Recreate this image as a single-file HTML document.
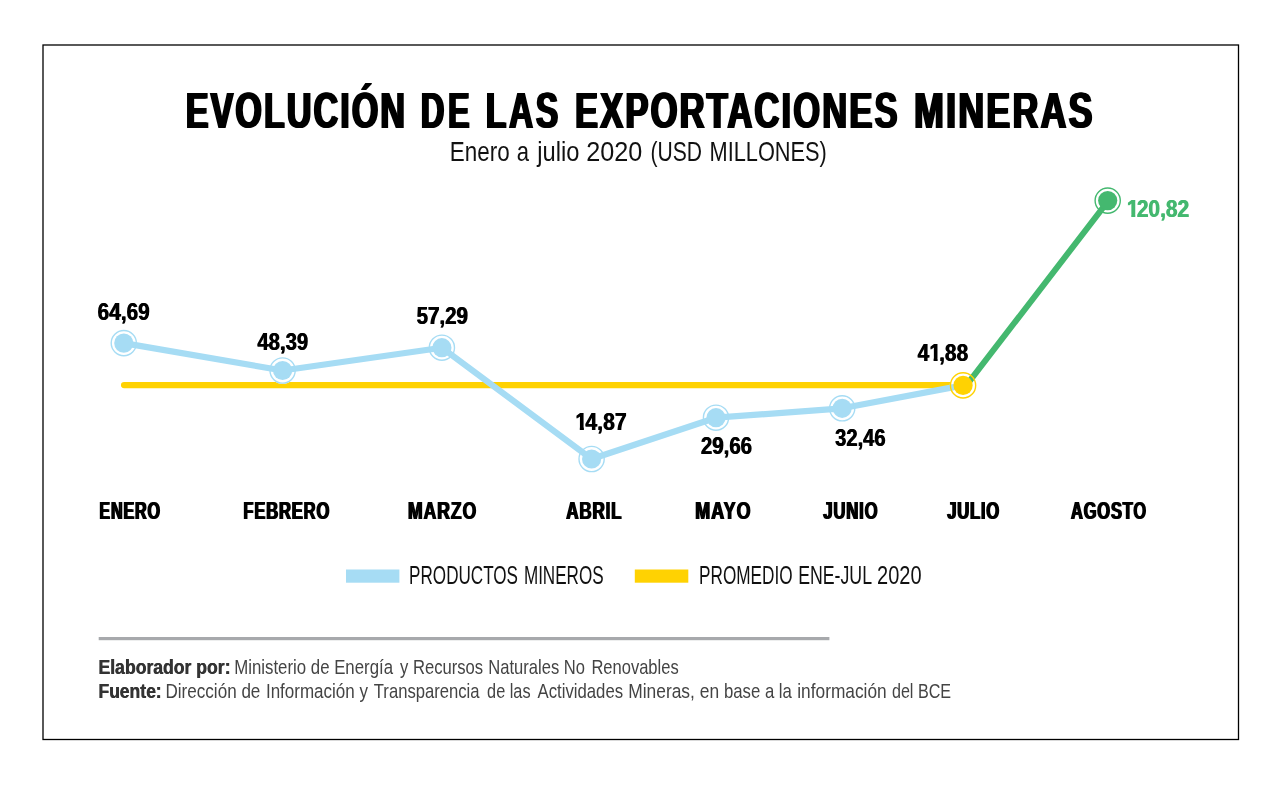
<!DOCTYPE html>
<html lang="es">
<head>
<meta charset="utf-8">
<title>Evolución de las exportaciones mineras</title>
<style>
html,body{margin:0;padding:0;background:#fff;}
body{width:1280px;height:787px;overflow:hidden;position:relative;}
svg{position:absolute;left:0;top:0;display:block;will-change:transform;}
svg text{font-family:"Liberation Sans",sans-serif;white-space:pre;}
</style>
</head>
<body>
<svg width="1280" height="787" viewBox="0 0 1280 787">
<rect x="0" y="0" width="1280" height="787" fill="#fff"/>
<!-- frame -->
<rect x="43" y="45" width="1195.5" height="694.5" fill="none" stroke="#000" stroke-width="1.3"/>
<!-- chart -->
<line x1="124.10" y1="385.10" x2="963.07" y2="385.10" stroke="#ffd202" stroke-width="6.30" stroke-linecap="round"/>
<circle cx="123.80" cy="343.10" r="13.30" fill="#fff"/>
<circle cx="282.60" cy="370.50" r="13.30" fill="#fff"/>
<circle cx="441.90" cy="347.70" r="13.30" fill="#fff"/>
<circle cx="591.60" cy="459.00" r="13.30" fill="#fff"/>
<circle cx="716.00" cy="417.70" r="13.30" fill="#fff"/>
<circle cx="842.20" cy="408.30" r="13.30" fill="#fff"/>
<circle cx="963.07" cy="385.40" r="13.30" fill="#fff"/>
<circle cx="1107.70" cy="200.60" r="13.30" fill="#fff"/>
<polyline points="123.80,343.10 282.60,370.50 441.90,347.70 591.60,459.00 716.00,417.70 842.20,408.30 963.07,385.40" fill="none" stroke="#a6dcf4" stroke-width="6.20" stroke-linejoin="round" stroke-linecap="round"/>
<line x1="966.30" y1="385.40" x2="1108.40" y2="200.70" stroke="#44b86f" stroke-width="6.00" stroke-linecap="round"/>
<circle cx="123.80" cy="343.10" r="12.60" fill="none" stroke="#a6dcf4" stroke-width="1.40"/>
<circle cx="123.80" cy="343.10" r="9.60" fill="#a6dcf4"/>
<circle cx="282.60" cy="370.50" r="12.60" fill="none" stroke="#a6dcf4" stroke-width="1.40"/>
<circle cx="282.60" cy="370.50" r="9.60" fill="#a6dcf4"/>
<circle cx="441.90" cy="347.70" r="12.60" fill="none" stroke="#a6dcf4" stroke-width="1.40"/>
<circle cx="441.90" cy="347.70" r="9.60" fill="#a6dcf4"/>
<circle cx="591.60" cy="459.00" r="12.60" fill="none" stroke="#a6dcf4" stroke-width="1.40"/>
<circle cx="591.60" cy="459.00" r="9.60" fill="#a6dcf4"/>
<circle cx="716.00" cy="417.70" r="12.60" fill="none" stroke="#a6dcf4" stroke-width="1.40"/>
<circle cx="716.00" cy="417.70" r="9.60" fill="#a6dcf4"/>
<circle cx="842.20" cy="408.30" r="12.60" fill="none" stroke="#a6dcf4" stroke-width="1.40"/>
<circle cx="842.20" cy="408.30" r="9.60" fill="#a6dcf4"/>
<circle cx="963.07" cy="385.40" r="12.60" fill="none" stroke="#ffd202" stroke-width="1.40"/>
<circle cx="963.07" cy="385.40" r="9.60" fill="#ffd202"/>
<circle cx="1107.70" cy="200.60" r="12.60" fill="none" stroke="#44b86f" stroke-width="1.40"/>
<circle cx="1107.70" cy="200.60" r="9.60" fill="#44b86f"/>
<!-- legend swatches -->
<rect x="346" y="569.5" width="53.4" height="13.2" fill="#a6dcf4"/>
<rect x="634.8" y="569.5" width="53.5" height="13.2" fill="#ffd202"/>
<!-- footer rule -->
<rect x="98.7" y="637" width="730.7" height="3.2" fill="#a7a9ac"/>
<!-- text -->
<text transform="translate(184.71 128.00) scale(0.6712 1)" font-size="50.62" font-weight="700" fill="#000" letter-spacing="3.20">EVOLUCIÓN</text>
<text transform="translate(185.81 128.00) scale(0.6712 1)" font-size="50.62" font-weight="700" fill="#000" letter-spacing="3.20">EVOLUCIÓN</text>
<text transform="translate(186.91 128.00) scale(0.6712 1)" font-size="50.62" font-weight="700" fill="#000" letter-spacing="3.20">EVOLUCIÓN</text>
<text transform="translate(419.81 128.00) scale(0.6420 1)" font-size="50.62" font-weight="700" fill="#000" letter-spacing="5.65">DE</text>
<text transform="translate(420.91 128.00) scale(0.6420 1)" font-size="50.62" font-weight="700" fill="#000" letter-spacing="5.65">DE</text>
<text transform="translate(422.01 128.00) scale(0.6420 1)" font-size="50.62" font-weight="700" fill="#000" letter-spacing="5.65">DE</text>
<text transform="translate(484.74 128.00) scale(0.6607 1)" font-size="50.62" font-weight="700" fill="#000" letter-spacing="4.16">LAS</text>
<text transform="translate(485.84 128.00) scale(0.6607 1)" font-size="50.62" font-weight="700" fill="#000" letter-spacing="4.16">LAS</text>
<text transform="translate(486.94 128.00) scale(0.6607 1)" font-size="50.62" font-weight="700" fill="#000" letter-spacing="4.16">LAS</text>
<text transform="translate(573.92 128.00) scale(0.6832 1)" font-size="50.62" font-weight="700" fill="#000" letter-spacing="3.11">EXPORTACIONES</text>
<text transform="translate(575.02 128.00) scale(0.6832 1)" font-size="50.62" font-weight="700" fill="#000" letter-spacing="3.11">EXPORTACIONES</text>
<text transform="translate(576.12 128.00) scale(0.6832 1)" font-size="50.62" font-weight="700" fill="#000" letter-spacing="3.11">EXPORTACIONES</text>
<text transform="translate(913.09 128.00) scale(0.7040 1)" font-size="50.62" font-weight="700" fill="#000" letter-spacing="3.30">MINERAS</text>
<text transform="translate(914.19 128.00) scale(0.7040 1)" font-size="50.62" font-weight="700" fill="#000" letter-spacing="3.30">MINERAS</text>
<text transform="translate(915.29 128.00) scale(0.7040 1)" font-size="50.62" font-weight="700" fill="#000" letter-spacing="3.30">MINERAS</text>
<text transform="translate(449.85 160.80) scale(0.7985 1)" font-size="28.07" font-weight="400" fill="#111">Enero</text>
<text transform="translate(516.76 160.80) scale(0.7854 1)" font-size="28.07" font-weight="400" fill="#111">a</text>
<text transform="translate(537.19 160.80) scale(0.8448 1)" font-size="28.07" font-weight="400" fill="#111">julio</text>
<text transform="translate(586.24 160.80) scale(0.8993 1)" font-size="28.07" font-weight="400" fill="#111">2020</text>
<text transform="translate(650.38 160.80) scale(0.7521 1)" font-size="28.07" font-weight="400" fill="#111">(USD</text>
<text transform="translate(709.50 160.80) scale(0.7763 1)" font-size="28.07" font-weight="400" fill="#111">MILLONES)</text>
<text transform="translate(98.66 519.00) scale(0.6784 1)" font-size="23.71" font-weight="700" fill="#000" letter-spacing="1.30">ENERO</text>
<text transform="translate(100.06 519.00) scale(0.6784 1)" font-size="23.71" font-weight="700" fill="#000" letter-spacing="1.30">ENERO</text>
<text transform="translate(242.68 519.00) scale(0.6976 1)" font-size="23.71" font-weight="700" fill="#000" letter-spacing="1.21">FEBRERO</text>
<text transform="translate(244.08 519.00) scale(0.6976 1)" font-size="23.71" font-weight="700" fill="#000" letter-spacing="1.21">FEBRERO</text>
<text transform="translate(407.32 519.00) scale(0.7394 1)" font-size="23.71" font-weight="700" fill="#000" letter-spacing="1.34">MARZO</text>
<text transform="translate(408.72 519.00) scale(0.7394 1)" font-size="23.71" font-weight="700" fill="#000" letter-spacing="1.34">MARZO</text>
<text transform="translate(565.57 519.00) scale(0.7189 1)" font-size="23.71" font-weight="700" fill="#000" letter-spacing="1.14">ABRIL</text>
<text transform="translate(566.97 519.00) scale(0.7189 1)" font-size="23.71" font-weight="700" fill="#000" letter-spacing="1.14">ABRIL</text>
<text transform="translate(694.59 519.00) scale(0.7554 1)" font-size="23.71" font-weight="700" fill="#000" letter-spacing="1.41">MAYO</text>
<text transform="translate(695.99 519.00) scale(0.7554 1)" font-size="23.71" font-weight="700" fill="#000" letter-spacing="1.41">MAYO</text>
<text transform="translate(822.55 519.00) scale(0.7063 1)" font-size="23.71" font-weight="700" fill="#000" letter-spacing="1.13">JUNIO</text>
<text transform="translate(823.95 519.00) scale(0.7063 1)" font-size="23.71" font-weight="700" fill="#000" letter-spacing="1.13">JUNIO</text>
<text transform="translate(946.55 519.00) scale(0.7003 1)" font-size="23.71" font-weight="700" fill="#000" letter-spacing="1.09">JULIO</text>
<text transform="translate(947.95 519.00) scale(0.7003 1)" font-size="23.71" font-weight="700" fill="#000" letter-spacing="1.09">JULIO</text>
<text transform="translate(1070.29 519.00) scale(0.6907 1)" font-size="23.71" font-weight="700" fill="#000" letter-spacing="1.29">AGOSTO</text>
<text transform="translate(1071.69 519.00) scale(0.6907 1)" font-size="23.71" font-weight="700" fill="#000" letter-spacing="1.29">AGOSTO</text>
<text transform="translate(409.09 583.60) scale(0.6799 1)" font-size="25.16" font-weight="400" fill="#111">PRODUCTOS</text>
<text transform="translate(523.89 583.60) scale(0.6796 1)" font-size="25.16" font-weight="400" fill="#111">MINEROS</text>
<text transform="translate(699.08 583.60) scale(0.6834 1)" font-size="25.16" font-weight="400" fill="#111">PROMEDIO</text>
<text transform="translate(798.14 583.60) scale(0.7051 1)" font-size="25.16" font-weight="400" fill="#111">ENE-JUL</text>
<text transform="translate(877.10 583.60) scale(0.7948 1)" font-size="25.16" font-weight="400" fill="#111">2020</text>
<text transform="translate(98.21 674.00) scale(0.8592 1)" font-size="20.51" font-weight="700" fill="#333">Elaborador por:</text>
<text transform="translate(98.71 674.00) scale(0.8592 1)" font-size="20.51" font-weight="700" fill="#333">Elaborador por:</text>
<text transform="translate(234.21 674.00) scale(0.8195 1)" font-size="20.51" font-weight="400" fill="#444">Ministerio de Energía</text>
<text transform="translate(399.96 674.00) scale(0.8112 1)" font-size="20.51" font-weight="400" fill="#444">y Recursos</text>
<text transform="translate(488.33 674.00) scale(0.8083 1)" font-size="20.51" font-weight="400" fill="#444">Naturales No</text>
<text transform="translate(591.44 674.00) scale(0.8062 1)" font-size="20.51" font-weight="400" fill="#444">Renovables</text>
<text transform="translate(98.22 698.00) scale(0.8543 1)" font-size="20.51" font-weight="700" fill="#333">Fuente:</text>
<text transform="translate(98.72 698.00) scale(0.8543 1)" font-size="20.51" font-weight="700" fill="#333">Fuente:</text>
<text transform="translate(165.49 698.00) scale(0.8329 1)" font-size="20.51" font-weight="400" fill="#444">Dirección de</text>
<text transform="translate(265.93 698.00) scale(0.8295 1)" font-size="20.51" font-weight="400" fill="#444">Información y</text>
<text transform="translate(373.83 698.00) scale(0.8116 1)" font-size="20.51" font-weight="400" fill="#444">Transparencia</text>
<text transform="translate(487.11 698.00) scale(0.7944 1)" font-size="20.51" font-weight="400" fill="#444">de las</text>
<text transform="translate(537.46 698.00) scale(0.8172 1)" font-size="20.51" font-weight="400" fill="#444">Actividades</text>
<text transform="translate(628.16 698.00) scale(0.8493 1)" font-size="20.51" font-weight="400" fill="#444">Mineras, en</text>
<text transform="translate(723.91 698.00) scale(0.8170 1)" font-size="20.51" font-weight="400" fill="#444">base a la</text>
<text transform="translate(797.23 698.00) scale(0.8444 1)" font-size="20.51" font-weight="400" fill="#444">información</text>
<text transform="translate(891.91 698.00) scale(0.7875 1)" font-size="20.51" font-weight="400" fill="#444">del BCE</text>
<!-- data labels -->
<clipPath id="c1"><rect x="-2" y="-23.75" width="23.75" height="20.75"/><rect x="5.33" y="-3.50" width="3.68" height="4.50"/></clipPath>
<g transform="translate(97.32 320) scale(0.8739 1)" font-size="23.75" font-weight="700" fill="#000">
<text x="0.00" y="0">64,69</text>
</g>
<g transform="translate(98.12 320) scale(0.8739 1)" font-size="23.75" font-weight="700" fill="#000">
<text x="0.00" y="0">64,69</text>
</g>
<g transform="translate(257.00 350) scale(0.8555 1)" font-size="23.75" font-weight="700" fill="#000">
<text x="0.00" y="0">48,39</text>
</g>
<g transform="translate(257.80 350) scale(0.8555 1)" font-size="23.75" font-weight="700" fill="#000">
<text x="0.00" y="0">48,39</text>
</g>
<g transform="translate(416.18 324) scale(0.8643 1)" font-size="23.75" font-weight="700" fill="#000">
<text x="0.00" y="0">57,29</text>
</g>
<g transform="translate(416.98 324) scale(0.8643 1)" font-size="23.75" font-weight="700" fill="#000">
<text x="0.00" y="0">57,29</text>
</g>
<g transform="translate(575.06 430) scale(0.8908 1)" font-size="23.75" font-weight="700" fill="#000">
<text transform="translate(0.00 0)" clip-path="url(#c1)">1</text>
<text x="11.16" y="0">4,87</text>
</g>
<g transform="translate(575.86 430) scale(0.8908 1)" font-size="23.75" font-weight="700" fill="#000">
<text transform="translate(0.00 0)" clip-path="url(#c1)">1</text>
<text x="11.16" y="0">4,87</text>
</g>
<g transform="translate(700.48 454) scale(0.8626 1)" font-size="23.75" font-weight="700" fill="#000">
<text x="0.00" y="0">29,66</text>
</g>
<g transform="translate(701.28 454) scale(0.8626 1)" font-size="23.75" font-weight="700" fill="#000">
<text x="0.00" y="0">29,66</text>
</g>
<g transform="translate(834.75 446) scale(0.8487 1)" font-size="23.75" font-weight="700" fill="#000">
<text x="0.00" y="0">32,46</text>
</g>
<g transform="translate(835.55 446) scale(0.8487 1)" font-size="23.75" font-weight="700" fill="#000">
<text x="0.00" y="0">32,46</text>
</g>
<g transform="translate(917.29 361) scale(0.8795 1)" font-size="23.75" font-weight="700" fill="#000">
<text x="0.00" y="0">4</text>
<text transform="translate(13.21 0)" clip-path="url(#c1)">1</text>
<text x="24.37" y="0">,88</text>
</g>
<g transform="translate(918.09 361) scale(0.8795 1)" font-size="23.75" font-weight="700" fill="#000">
<text x="0.00" y="0">4</text>
<text transform="translate(13.21 0)" clip-path="url(#c1)">1</text>
<text x="24.37" y="0">,88</text>
</g>
<g transform="translate(1126.58 217) scale(0.8810 1)" font-size="23.75" font-weight="700" fill="#44b86f">
<text transform="translate(0.00 0)" clip-path="url(#c1)">1</text>
<text x="11.16" y="0">20,82</text>
</g>
<g transform="translate(1127.38 217) scale(0.8810 1)" font-size="23.75" font-weight="700" fill="#44b86f">
<text transform="translate(0.00 0)" clip-path="url(#c1)">1</text>
<text x="11.16" y="0">20,82</text>
</g>
</svg>
</body>
</html>
